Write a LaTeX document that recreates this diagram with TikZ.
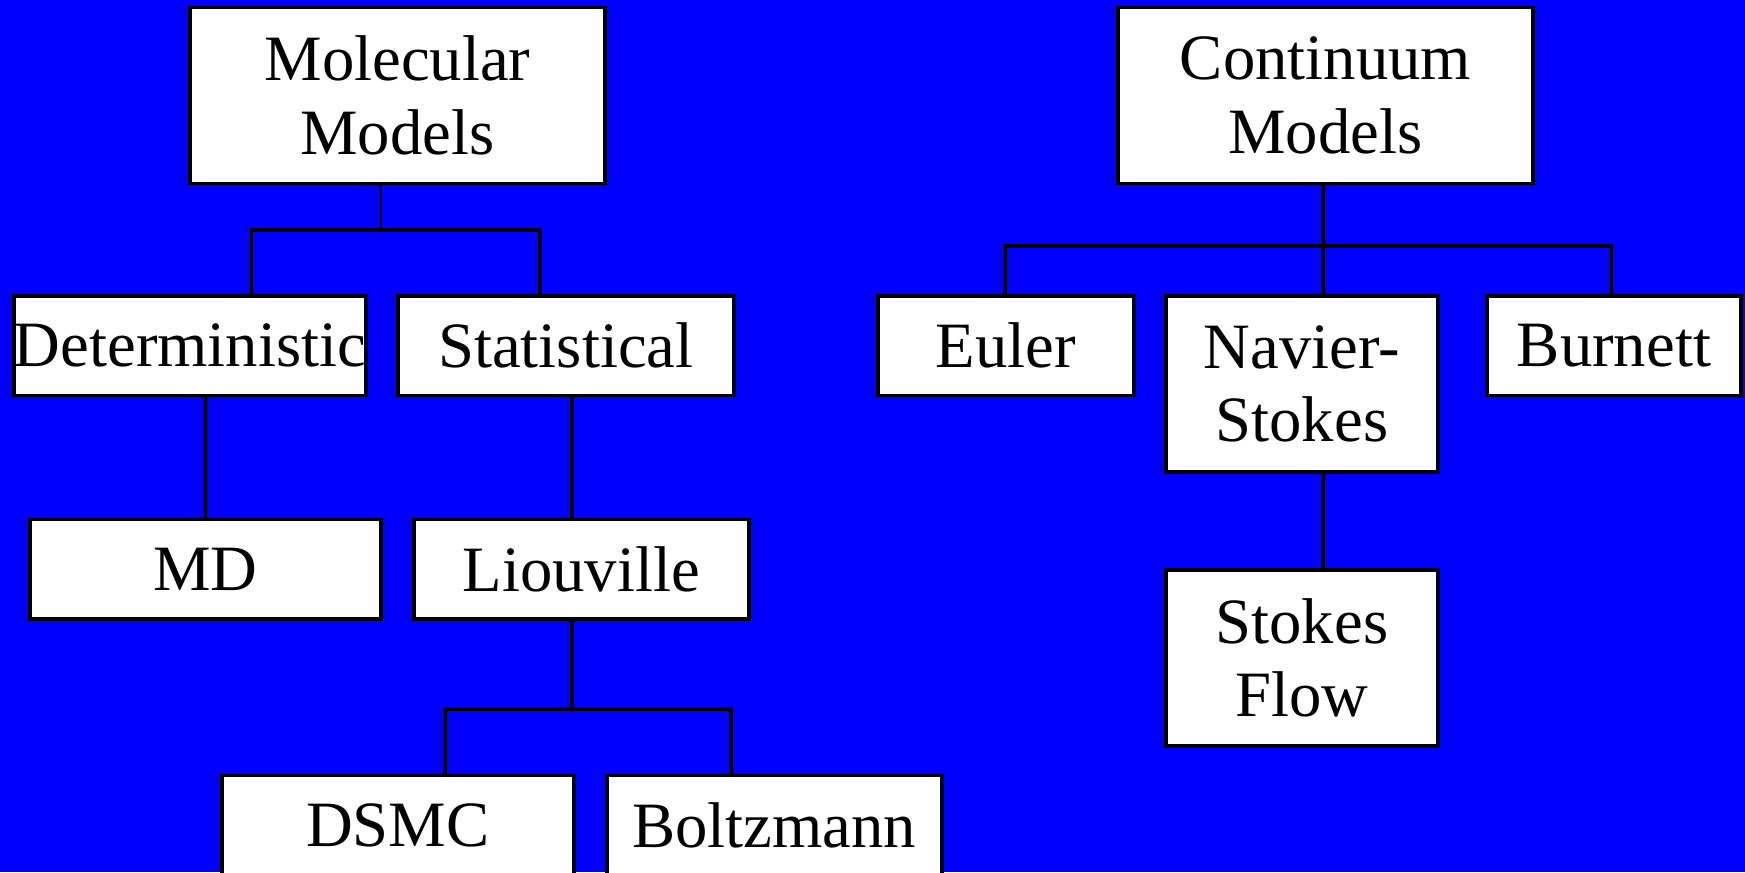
\documentclass[tikz,border=0pt]{standalone}
\usepackage{fontspec}
\setmainfont{Liberation Serif}
\usepackage{tikz}
\usetikzlibrary{positioning,calc}
\definecolor{slide}{HTML}{0000FF}

\begin{document}
\begin{tikzpicture}[x=1mm,y=-1mm,
  box/.style={draw=black,fill=white,line width=1.1pt,inner sep=0pt,
              minimum height=9.95mm,align=center,font=\fontsize{18.4}{21}\selectfont},
  tall/.style={box,minimum height=17.6mm},
  link/.style={draw=black,line width=1pt}
]
\fill[slide] (0,0) rectangle (174.5,87.2);
\useasboundingbox (0,0) rectangle (174.5,87.2);

% molecular side
\node[tall,minimum width=41.5mm,anchor=north west] (mol) at (18.8,0.56) {Molecular\\Models};
\node[box,minimum width=35.2mm,anchor=north west] (det) at (1.2,29.4) {Deterministic};
\node[box,minimum width=33.6mm,right=2.8mm of det] (stat) {Statistical};
\node[box,minimum width=35.1mm,anchor=north west] (md) at (2.8,51.75) {MD};
\node[box,minimum width=33.5mm,right=2.9mm of md] (liou) {Liouville};
\node[box,minimum width=35.2mm,anchor=north west] (dsmc) at (22.0,77.35) {DSMC};
\node[box,minimum width=33.5mm,right=2.9mm of dsmc] (boltz) {Boltzmann};

% continuum side
\node[tall,minimum width=41.5mm,anchor=north west] (con) at (111.6,0.56) {Continuum\\Models};
\node[box,minimum width=25.6mm,anchor=north west] (euler) at (87.6,29.4) {Euler};
\node[tall,minimum width=27.2mm,anchor=north west] (ns) at (116.4,29.4) {Navier-\\Stokes};
\node[box,minimum width=25.4mm,anchor=north west] (burn) at (148.5,29.4) {Burnett};
\node[tall,minimum width=27.2mm,below=9.4mm of ns] (sf) {Stokes\\Flow};

% tree lines
\coordinate (mj) at (38.06,23.0);
\draw[link] (mol.south -| mj) -- (mj);
\draw[link] (mj) -| (det.north -| 25.15,0);
\draw[link] (mj) -| (stat.north -| 53.98,0);
\draw[link] (md.north |- det.south) -- (md.north);
\draw[link] (stat.south -| 57.2,0) -- (liou.north -| 57.2,0);

\coordinate (lj) at (57.2,70.9);
\draw[link] (liou.south -| lj) -- (lj);
\draw[link] (lj) -| (dsmc.north -| 44.5,0);
\draw[link] (lj) -| (boltz.north -| 73.1,0);

\coordinate (cj) at (132.3,24.6);
\draw[link] (con.south -| cj) -- (cj) -- (ns.north -| cj);
\draw[link] (cj) -| (euler.north -| 100.5,0);
\draw[link] (cj) -| (burn.north -| 161.15,0);
\draw[link] (ns.south -| cj) -- (sf.north -| cj);
\end{tikzpicture}
\end{document}
